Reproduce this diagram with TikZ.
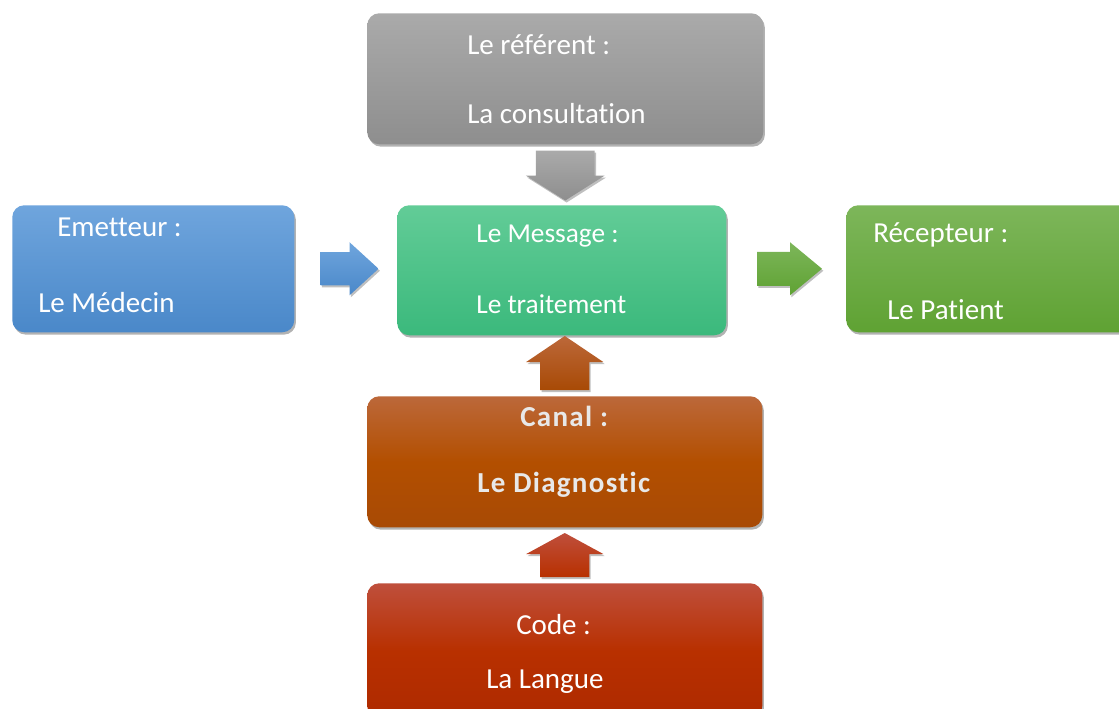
\documentclass[tikz,border=0pt]{standalone}
\usepackage{fontspec}
\setmainfont{Carlito}[Ligatures=NoCommon]
\newfontfamily\canalfont[LetterSpace=4.5,Ligatures=NoCommon]{Carlito}
\usetikzlibrary{shadows,calc}

\definecolor{grisA}{HTML}{AAAAAA}\definecolor{grisB}{HTML}{8E8E8E}
\definecolor{bleuA}{HTML}{6FA5DD}\definecolor{bleuB}{HTML}{4A88C9}
\definecolor{vertA}{HTML}{62CC97}\definecolor{vertB}{HTML}{3BB97C}
\definecolor{prairieA}{HTML}{7DB65A}\definecolor{prairieB}{HTML}{5FA233}
\definecolor{orangeA}{HTML}{BC683A}\definecolor{orangeM}{HTML}{B34F00}\definecolor{orangeB}{HTML}{A84A05}
\definecolor{rougeA}{HTML}{BF4F3C}\definecolor{rougeM}{HTML}{B83000}\definecolor{rougeB}{HTML}{AE2A00}
\definecolor{texteclair}{HTML}{E8E8E8}

\tikzset{
  bloc/.style={anchor=north west, rounded corners=9pt, inner sep=0pt,
    drop shadow={shadow xshift=1.2pt, shadow yshift=-1.8pt, opacity=0.3, fill=black}},
  txt/.style={anchor=base west, text=white, inner sep=0pt},
  fleche/.style={drop shadow={shadow xshift=1pt, shadow yshift=-1.5pt, opacity=0.25, fill=black}},
}

% #1 style, #2 depart, #3 pointe, #4 demi-largeur du corps, #5 demi-largeur de la tete, #6 longueur de la tete
\newcommand\blocfleche[6]{%
	\coordinate (fa) at (#2); \coordinate (fb) at (#3);
	\coordinate (fh) at ($(fb)!#6!(fa)$);
	\path[fleche,#1] ($(fa)!#4!90:(fb)$) -- ($(fh)!#4!90:(fb)$) -- ($(fh)!#5!90:(fb)$) -- (fb)
		-- ($(fh)!#5!-90:(fb)$) -- ($(fh)!#4!-90:(fb)$) -- ($(fa)!#4!-90:(fb)$) -- cycle;
}

\begin{document}
\begin{tikzpicture}[x=0.75pt, y=-0.75pt, font=\fontsize{21.75}{26}\selectfont]
	\useasboundingbox (0,0) rectangle (1119,709);
	% les boites
	\node[bloc, top color=grisA, bottom color=grisB, minimum width=297pt, minimum height=98.25pt] (ref) at (367,13) {};
	\node[bloc, top color=bleuA, bottom color=bleuB, minimum width=211.5pt, minimum height=95.25pt] (emet) at (12,205) {};
	\node[bloc, top color=vertA, bottom color=vertB, minimum width=246.75pt, minimum height=97.5pt] (msg) at (397,205) {};
	\node[bloc, top color=prairieA, bottom color=prairieB, minimum width=213.75pt, minimum height=95.25pt] (recep) at (846,205) {};
	\node[bloc, top color=orangeA, bottom color=orangeB, middle color=orangeM, minimum width=296.25pt, minimum height=98.25pt] (canal) at (367,396) {};
	\node[bloc, top color=rougeA, bottom color=rougeB, middle color=rougeM, minimum width=296.25pt, minimum height=101.25pt] (code) at (367,583) {};
	% les textes
	\node[txt] (refa) at (467,55) {Le référent :};
	\node[txt] (refb) at (467,124) {La consultation};
	\node[txt] (emeta) at (57,236) {Emetteur :};
	\node[txt] (emetb) at (38,312) {Le Médecin};
	\node[txt, font=\fontsize{20.5}{26}\selectfont] (msga) at (476,243) {Le Message :};
	\node[txt, font=\fontsize{20.5}{26}\selectfont] (msgb) at (476,313) {Le traitement};
	\node[txt] (recepa) at (873,242) {Récepteur :};
	\node[txt] (recepb) at (887,319) {Le Patient};
	\node[txt, text=texteclair, font=\fontsize{21.75}{26}\canalfont\bfseries] (canala) at (520,426) {Canal :};
	\node[txt, text=texteclair, font=\fontsize{21.75}{26}\canalfont\bfseries] (canalb) at (477,492) {Le Diagnostic};
	\node[txt] (codea) at (516,634) {Code :};
	\node[txt] (codeb) at (486,688) {La Langue};
	% les fleches
	\blocfleche{top color=grisA, bottom color=grisB}{$(ref.south)+(0,6)$}{$(ref.south)+(0,56)$}{22.1pt}{29.6pt}{18.75pt}
	\blocfleche{top color=bleuA, bottom color=bleuB}{$(emet.east)+(26,0)$}{$(emet.east)+(84,0)$}{12.4pt}{19.9pt}{21.75pt}
	\blocfleche{top color=prairieA, bottom color=prairieB}{$(recep.west)+(-89,0)$}{$(recep.west)+(-24,0)$}{12.75pt}{19.9pt}{24pt}
	\blocfleche{top color=orangeA, bottom color=orangeB}{$(canal.north)+(0,-6)$}{$(canal.north)+(0,-60)$}{18.4pt}{28.9pt}{19.5pt}
	\blocfleche{top color=rougeA, bottom color=rougeM}{$(code.north)+(0,-6)$}{$(code.north)+(0,-50)$}{18.4pt}{28.9pt}{15.75pt}
\end{tikzpicture}
\end{document}
